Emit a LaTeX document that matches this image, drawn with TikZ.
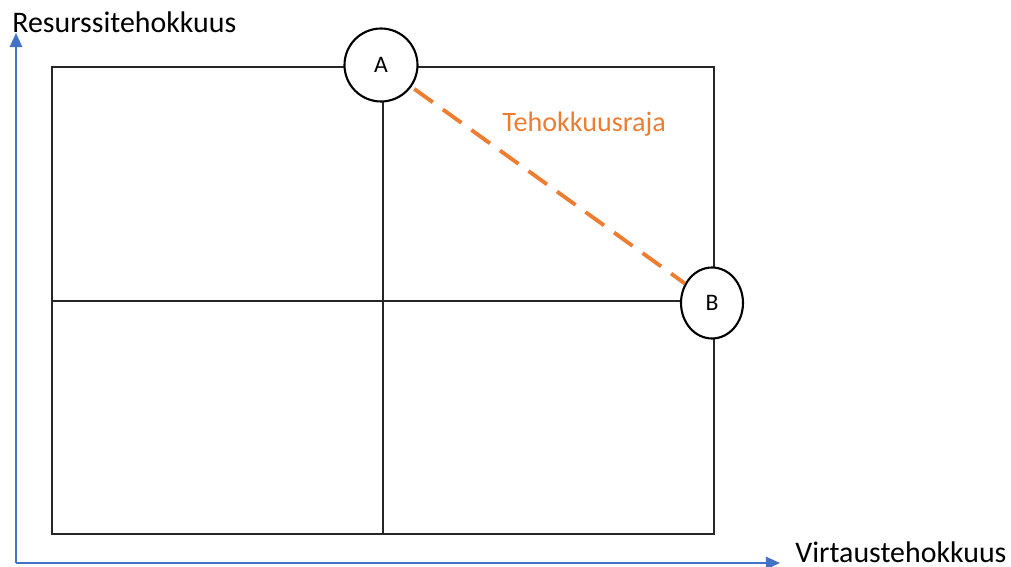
\documentclass[tikz,border=0pt]{standalone}
\usepackage{fontspec}
\setmainfont{Carlito}
\usetikzlibrary{positioning, arrows.meta, calc, shapes.geometric}
\definecolor{axisblue}{HTML}{4472C4}
\definecolor{rajaorange}{HTML}{ED7D31}

\begin{document}
\begin{tikzpicture}[x=0.02cm, y=-0.02cm,
    quad/.style={draw=black!85, line width=0.8pt},
    axis/.style={draw=axisblue, line width=1.1pt, -{Triangle[length=8pt, width=7pt]}},
    point/.style={draw, line width=1.2pt, fill=white, inner sep=0pt,
                  font=\fontsize{13.5}{15}\selectfont},
    lbl/.style={inner sep=0pt, anchor=base west, font=\fontsize{17}{20}\selectfont}]
  \useasboundingbox (0,0) rectangle (1011,567);
  % axes
  \coordinate (origin) at (16,563);
  \coordinate (ytop) at (16,33);
  \coordinate (xend) at (780,563);
  \draw[axis] (origin) -- (ytop);
  \draw[axis] (origin) -- (xend);
  \node[lbl] (ylabel) at (12,33) {Resurssitehokkuus};
  \node[lbl] (xlabel) at (795,562) {Virtaustehokkuus};
  % quadrants
  \draw[quad] (52,67) rectangle (714,534);
  \draw[quad] (383,67) -- (383,534);
  \draw[quad] (52,301) -- (714,301);
  % points and frontier
  \node[point, circle, minimum size=1.46cm] (A) at (381,65) {A};
  \node[point, ellipse, minimum width=1.24cm, minimum height=1.42cm] (B) at (712,303) {B};
  \draw[rajaorange, line width=2.2pt, dash pattern=on 13pt off 7pt, shorten <=2pt] (A) -- (B);
  \node[lbl, text=rajaorange, font=\fontsize{16}{19}\selectfont] (raja) at (502,132) {Tehokkuusraja};
\end{tikzpicture}
\end{document}
